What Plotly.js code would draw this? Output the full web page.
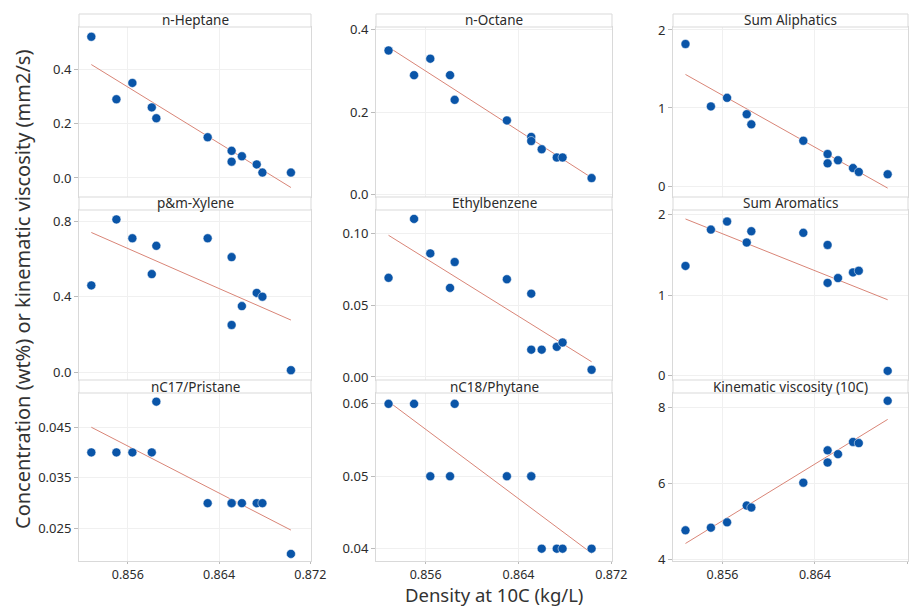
<!DOCTYPE html>
<html><head><meta charset="utf-8">
<script src="https://cdn.plot.ly/plotly-3.0.1.min.js"></script>
<style>html,body{margin:0;padding:0;background:#fff}#chart{width:919px;height:608px}</style>
</head><body><div id="chart"></div>
<script>
// Density at 10C (kg/L), one value per sample
const density = [0.8528,0.8550,0.8564,0.8581,0.8585,0.8630,0.8651,0.8651,0.8660,0.8673,0.8678,0.8703];
const panelNames = ["n-Heptane","n-Octane","Sum Aliphatics","p&m-Xylene","Ethylbenzene","Sum Aromatics","nC17/Pristane","nC18/Phytane","Kinematic viscosity (10C)"];
const nHeptane      = [0.52,0.29,0.35,0.26,0.22,0.15,0.10,0.06,0.08,0.05,0.02,0.02];
const nOctane       = [0.35,0.29,0.33,0.29,0.23,0.18,0.14,0.13,0.11,0.09,0.09,0.04];
const sumAliphatics = [1.82,1.02,1.13,0.92,0.79,0.58,0.41,0.29,0.33,0.23,0.18,0.15];
const pmXylene      = [0.46,0.81,0.71,0.52,0.67,0.71,0.61,0.25,0.35,0.42,0.40,0.01];
const ethylbenzene  = [0.069,0.110,0.086,0.062,0.080,0.068,0.058,0.019,0.019,0.021,0.024,0.005];
const sumAromatics  = [1.36,1.81,1.91,1.65,1.79,1.77,1.62,1.15,1.21,1.28,1.30,0.06];
const nC17Pristane  = [0.040,0.040,0.040,0.040,0.050,0.030,0.030,0.030,0.030,0.030,0.030,0.020];
const nC18Phytane   = [0.06,0.06,0.05,0.05,0.06,0.05,0.05,0.05,0.04,0.04,0.04,0.04];
const kinViscosity  = [4.77,4.84,4.98,5.42,5.37,6.02,6.87,6.55,6.77,7.09,7.06,8.17];
const xTickVals = [0.856,0.864,0.872];
const xTickText = ["0.856","0.864","0.872"];
const yTickVals = [[0,0.2,0.4],[0,0.2,0.4],[0,1,2],[0,0.4,0.8],[0,0.05,0.1],[0,1,2],[0.025,0.035,0.045],[0.04,0.05,0.06],[4,6,8]];
const yTickText = [["0.0","0.2","0.4"],["0.0","0.2","0.4"],["0","1","2"],["0.0","0.4","0.8"],["0.00","0.05","0.10"],["0","1","2"],["0.025","0.035","0.045"],["0.04","0.05","0.06"],["4","6","8"]];

const series = [nHeptane,nOctane,sumAliphatics,pmXylene,ethylbenzene,sumAromatics,nC17Pristane,nC18Phytane,kinViscosity];

// layout geometry (pixels)
const W=919,H=608;
const colPx=[[79,311],[376,612],[673,908]];
const rowPx=[[27,197],[210,380],[393,561]]; // plot areas
const stripH=13;
const yRanges=[[-0.07,0.556],[-0.006,0.407],[-0.141,2.038],[-0.042,0.86],[-0.0021,0.1162],[-0.053,2.053],[0.0186,0.0517],[0.0383,0.0615],[3.965,8.375]];
const xRange=[0.85172,0.87206];

function fit(x,y){
  const n=x.length;let mx=0,my=0;for(let i=0;i<n;i++){mx+=x[i];my+=y[i];}mx/=n;my/=n;
  let sxy=0,sxx=0;for(let i=0;i<n;i++){sxy+=(x[i]-mx)*(y[i]-my);sxx+=(x[i]-mx)**2;}
  const b=sxy/sxx,a=my-b*mx;const x0=Math.min(...x),x1=Math.max(...x);
  return {x:[x0,x1],y:[a+b*x0,a+b*x1]};
}

const font="'Noto Sans', 'Open Sans', sans-serif";
const data=[];const layout={width:W,height:H,margin:{l:0,r:0,t:0,b:0},showlegend:false,
  paper_bgcolor:'#fff',plot_bgcolor:'#fff',font:{family:font,color:'#2b2b2b',size:13},shapes:[],annotations:[]};

for(let k=0;k<9;k++){
  const r=Math.floor(k/3),c=k%3;const s=k===0?'':String(k+1);
  const f=fit(density,series[k]);
  data.push({type:'scatter',mode:'lines',x:f.x,y:f.y,xaxis:'x'+s,yaxis:'y'+s,line:{color:'#d98577',width:1},hoverinfo:'skip'});
  data.push({type:'scatter',mode:'markers',x:density,y:series[k],xaxis:'x'+s,yaxis:'y'+s,
    marker:{color:'#0a55a8',size:9,line:{color:'#ffffff',width:0.5}}});
  const xd=[colPx[c][0]/W,colPx[c][1]/W];
  const yd=[1-rowPx[r][1]/H,1-rowPx[r][0]/H];
  layout['xaxis'+s]={domain:xd,anchor:'y'+s,range:xRange,tickvals:xTickVals,ticktext:xTickText,
    showticklabels:r===2,ticks:r===2?'outside':'',ticklen:2,tickcolor:'#bbb',
    showgrid:true,gridcolor:'#f0f0f0',gridwidth:1,zeroline:false,showline:true,mirror:true,linecolor:'#d9d9d9',linewidth:1,
    tickfont:{size:12.5,color:'#2b2b2b'}};
  layout['yaxis'+s]={domain:yd,anchor:'x'+s,range:yRanges[k],tickvals:yTickVals[k],ticktext:yTickText[k],
    ticks:'outside',ticklen:4,tickcolor:'#bbb',showgrid:true,gridcolor:'#f0f0f0',gridwidth:1,zeroline:false,
    showline:true,mirror:true,linecolor:'#d9d9d9',linewidth:1,tickfont:{size:13,color:'#2b2b2b'}};
  // strip
  const st=rowPx[r][0]-stripH;
  layout.shapes.push({type:'rect',xref:'paper',yref:'paper',x0:xd[0],x1:xd[1],y0:1-rowPx[r][0]/H,y1:1-st/H,
    fillcolor:'#ffffff',line:{color:'#d9d9d9',width:1}});
  layout.annotations.push({xref:'paper',yref:'paper',x:(xd[0]+xd[1])/2,y:1-(st+stripH/2)/H,text:panelNames[k],
    showarrow:false,xanchor:'center',yanchor:'middle',font:{size:13.5,color:'#2b2b2b'}});
}
layout.annotations.push({xref:'paper',yref:'paper',x:494/W,y:0,text:'Density at 10C (kg/L)',showarrow:false,
  xanchor:'center',yanchor:'bottom',yshift:0,borderpad:0,font:{size:18.5,color:'#333'}});
layout.annotations.push({xref:'paper',yref:'paper',x:22/W,y:1-290/H,text:'Concentration (wt%) or kinematic viscosity (mm2/s)',
  showarrow:false,textangle:-90,xanchor:'center',yanchor:'middle',font:{size:20,color:'#333'}});

Plotly.newPlot('chart',data,layout,{staticPlot:true});
</script></body></html>
